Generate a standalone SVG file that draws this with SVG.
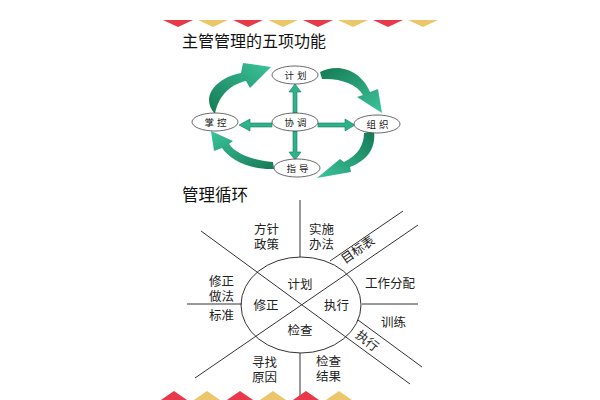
<svg xmlns="http://www.w3.org/2000/svg" width="600" height="400" viewBox="0 0 600 400">
<defs>
<style>
.ttl{font-family:"Noto Sans CJK SC","Noto Sans",sans-serif;fill:#111}
.nd{fill:#fff;stroke:#444;stroke-width:0.8}
.nt{font-family:"Noto Sans CJK SC",sans-serif;font-size:9.5px;fill:#222;text-anchor:middle;letter-spacing:3px}
.sa{fill:#2db38a;stroke:#1a7a5a;stroke-width:0.6}
.ln{stroke:#333;stroke-width:1;fill:none}
.t2{font-family:"Liberation Sans","Noto Sans CJK SC",sans-serif;font-size:12.5px;fill:#222;text-anchor:middle}
.red{fill:#e8394a}
.yel{fill:#ecc66b}
</style>
<linearGradient id="g1" x1="0" y1="1" x2="1" y2="0"><stop offset="0" stop-color="#157a55"/><stop offset="1" stop-color="#3cc49a"/></linearGradient>
<linearGradient id="g2" x1="0" y1="0" x2="1" y2="1"><stop offset="0" stop-color="#157a55"/><stop offset="1" stop-color="#3cc49a"/></linearGradient>
<linearGradient id="g3" x1="1" y1="0" x2="0" y2="1"><stop offset="0" stop-color="#157a55"/><stop offset="1" stop-color="#3cc49a"/></linearGradient>
<linearGradient id="g4" x1="1" y1="1" x2="0" y2="0"><stop offset="0" stop-color="#157a55"/><stop offset="1" stop-color="#3cc49a"/></linearGradient>
</defs>
<rect width="600" height="400" fill="#fff"/>
<g id="band-top">
<polygon class="red" points="163,20 193,20 178,27"/>
<polygon class="yel" points="198,20 228,20 213,27"/>
<polygon class="red" points="233,20 263,20 248,27"/>
<polygon class="yel" points="268,20 298,20 283,27"/>
<polygon class="red" points="303,20 333,20 318,27"/>
<polygon class="yel" points="338,20 368,20 353,27"/>
<polygon class="red" points="373,20 403,20 388,27"/>
<polygon class="yel" points="408,20 438,20 423,27"/>
</g>
<text class="ttl" x="182" y="47" font-size="16">主管管理的五项功能</text>
<g id="curved-arrows">
<path fill="url(#g1)" d="M215,114 C200,98 215,78 241,73 L243,63 L271,67 L250,88 L246,81 C228,85 218,98 215,114 Z"/>
<path fill="url(#g2)" d="M320,72 C340,62 362,72 370,92 L378,89 L382,113 L357,97 L363,95 C357,84 340,78 322,79 Z"/>
<path fill="url(#g3)" d="M374,131 C376,148 368,160 350,167 L351,172 L317,178 L340,159 L344,162 C358,155 364,145 364,133 Z"/>
<path fill="url(#g4)" d="M274,169 C250,170 230,160 222,148 L214,151 L211,131 L233,141 L229,144 C236,154 252,160 273,162 Z"/>
</g>
<g id="straight-arrows">
<polygon class="sa" points="293,113 293,92 289,92 295,84 301,92 297,92 297,113"/>
<polygon class="sa" points="293,131 293,152 289,152 295,160 301,152 297,152 297,131"/>
<polygon class="sa" points="272,123 250,123 250,119 239,125 250,131 250,127 272,127"/>
<polygon class="sa" points="318,123 345,123 345,119 355,125 345,131 345,127 318,127"/>
</g>
<g id="n-jihua"><ellipse class="nd" cx="295" cy="75" rx="23" ry="9"/><text class="nt" x="297" y="79">计划</text></g>
<g id="n-zhangkong"><ellipse class="nd" cx="215" cy="122" rx="23" ry="9"/><text class="nt" x="217" y="126">掌控</text></g>
<g id="n-xietiao"><ellipse class="nd" cx="295" cy="122" rx="23" ry="9"/><text class="nt" x="297" y="126">协调</text></g>
<g id="n-zuzhi"><ellipse class="nd" cx="377" cy="124" rx="23" ry="9"/><text class="nt" x="379" y="128">组织</text></g>
<g id="n-zhidao"><ellipse class="nd" cx="297" cy="168" rx="23" ry="9"/><text class="nt" x="299" y="172">指导</text></g>
<text class="ttl" x="182" y="201" font-size="16.5">管理循环</text>
<g id="cycle-lines">
<ellipse class="ln" cx="301" cy="305" rx="60" ry="48"/>
<line class="ln" x1="300" y1="200" x2="300" y2="257" stroke="#666"/>
<line class="ln" x1="300" y1="353" x2="300" y2="400" stroke="#666"/>
<line class="ln" x1="187" y1="304" x2="242" y2="304"/>
<line class="ln" x1="362" y1="304" x2="418" y2="304"/>
<line class="ln" x1="201" y1="231" x2="410" y2="384"/>
<line class="ln" x1="358" y1="320" x2="422" y2="367"/>
<line class="ln" x1="195" y1="378" x2="418" y2="225"/>
<line class="ln" x1="330" y1="261" x2="403" y2="211"/>
</g>
<g id="cycle-text">
<text class="t2" x="266.5" y="234">方针<tspan x="266.5" dy="14.5">政策</tspan></text>
<text class="t2" x="321.5" y="234">实施<tspan x="321.5" dy="14.5">办法</tspan></text>
<text class="t2" x="221.5" y="286">修正<tspan x="221.5" dy="14.5">做法</tspan><tspan x="221.5" dy="19.5">标准</tspan></text>
<text class="t2" x="300" y="289">计划</text>
<text class="t2" x="266" y="310">修正</text>
<text class="t2" x="336.5" y="310">执行</text>
<text class="t2" x="300" y="335">检查</text>
<text class="t2" x="390" y="288">工作分配</text>
<text class="t2" x="393.5" y="327">训练</text>
<text class="t2" x="264.5" y="367">寻找<tspan x="264.5" dy="14.5">原因</tspan></text>
<text class="t2" x="328.5" y="366">检查<tspan x="328.5" dy="14.5">结果</tspan></text>
<text class="t2" font-size="12" dominant-baseline="central" transform="translate(358,250) rotate(-35)">目标表</text>
<text class="t2" font-size="12" dominant-baseline="central" transform="translate(367,341) rotate(38)">执行</text>
</g>
<g id="band-bottom">
<polygon class="red" points="158,402 190,402 174,391"/>
<polygon class="yel" points="191,402 223,402 207,391"/>
<polygon class="red" points="224,402 256,402 240,391"/>
<polygon class="yel" points="257,402 289,402 273,391"/>
<polygon class="red" points="290,402 322,402 306,391"/>
<polygon class="yel" points="323,402 355,402 339,391"/>
</g>
</svg>
